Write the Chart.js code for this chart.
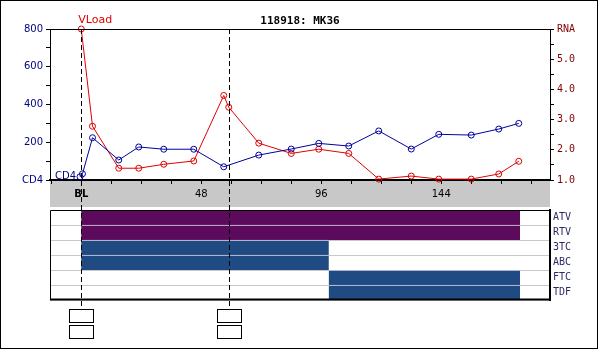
<!DOCTYPE html>
<html>
<head>
<meta charset="utf-8">
<script src="https://cdn.jsdelivr.net/npm/chart.js@4.4.0/dist/chart.umd.min.js"></script>
<style>
    html, body { margin: 0; padding: 0; background: #fff; }
    #wrap { position: relative; width: 600px; height: 349px; }
    #wrap canvas { position: absolute; left: 0; top: 0; }
</style>
</head>
<body>
<div id="wrap">
    <canvas id="labChart" width="600" height="349"></canvas>
    <canvas id="drugChart" width="600" height="349"></canvas>
</div>
<script>
// данные (недели от BL)
const cd4Weeks = [-0.5, 0.5, 4.5, 15, 23, 33, 45, 57, 71, 84, 95, 107, 119, 132, 143, 156, 167, 175];
const cd4Values = [17, 33, 224, 106, 175, 163, 163, 70, 132, 164, 194, 180, 260, 164, 242, 238, 270, 300];

const vlWeeks = [0, 4.5, 15, 23, 33, 45, 57, 59, 71, 84, 95, 107, 119, 132, 143, 156, 167, 175];
const vlLog = [6.0, 2.78, 1.39, 1.39, 1.52, 1.63, 3.80, 3.41, 2.22, 1.88, 2.02, 1.88, 1.03, 1.13, 1.03, 1.03, 1.2, 1.62];

const xTickLabels = { 0: 'BL', 48: '48', 96: '96', 144: '144' };
const markerWeeks = [0, 59];

const drugNames = ['ATV', 'RTV', '3TC', 'ABC', 'FTC', 'TDF'];
const drugStart = [0, 0, 0, 0, 99, 99];
const drugEnd = [175.5, 175.5, 99, 99, 175.5, 175.5];
const drugClass = ['PI', 'PI', 'NRTI', 'NRTI', 'NRTI', 'NRTI'];

const classColors = { PI: '#5c0a5c', NRTI: '#1f4a82' };
const X_MIN = -12.5, X_MAX = 187.5;

const fixWidth = (w) => (scale) => { scale.width = w; };

//
const labDecor = {
    id: 'labDecor',
    beforeDraw(chart) {
        const { ctx, chartArea: { left, right, bottom } } = chart;
        ctx.save();
        ctx.fillStyle = '#c8c8c8';
        ctx.fillRect(left, bottom, right - left, 27); // серая полоса под осью
        ctx.restore();
    },
    afterDraw(chart) {
        const { ctx, chartArea: { left, right, top } } = chart;
        ctx.save();
        ctx.strokeStyle = '#000';
        ctx.lineWidth = 1;
        ctx.beginPath();
        ctx.moveTo(left, top + 0.5);
        ctx.lineTo(right, top + 0.5);
        ctx.stroke();

        // подписи серий у первой точки
        ctx.font = '10px "DejaVu Sans"';
        const cd4 = chart.getDatasetMeta(0).data[0];
        ctx.fillStyle = '#000080';
        ctx.textAlign = 'right';
        ctx.textBaseline = 'middle';
        ctx.fillText('CD4', cd4.x - 4, cd4.y);

        const vl = chart.getDatasetMeta(1).data[0];
        ctx.fillStyle = '#e00000';
        ctx.textAlign = 'left';
        ctx.font = '11px "DejaVu Sans"';
        ctx.fillText('VLoad', vl.x - 3, vl.y - 9);
        ctx.restore();
    }
};

new Chart(document.getElementById('labChart'), {
    type: 'line',
    data: {
        datasets: [
            {
                label: 'CD4',
                data: cd4Weeks.map((w, i) => ({ x: w, y: cd4Values[i] })),
                yAxisID: 'y',
                borderColor: '#0000a0',
                borderWidth: 1,
                pointStyle: 'circle',
                pointRadius: 3,
                pointBorderWidth: 1,
                pointBackgroundColor: 'rgba(0,0,0,0)',
                pointBorderColor: '#0000a0',
                clip: 6,
            },
            {
                label: 'VLoad',
                data: vlWeeks.map((w, i) => ({ x: w, y: vlLog[i] })),
                yAxisID: 'y2',
                borderColor: '#e00000',
                borderWidth: 1,
                pointStyle: 'circle',
                pointRadius: 3,
                pointBorderWidth: 1,
                pointBackgroundColor: 'rgba(0,0,0,0)',
                pointBorderColor: '#e00000',
                clip: 6,
            }
        ]
    },
    options: {
        responsive: false,
        animation: false,
        devicePixelRatio: 1,
        layout: { padding: { left: 0, right: 0, top: 0, bottom: 142 } },
        scales: {
            x: {
                type: 'linear',
                min: X_MIN,
                max: X_MAX,
                afterBuildTicks: (scale) => {
                    const ticks = [];
                    for (let v = -12; v <= 180; v += 12) ticks.push({ value: v });
                    scale.ticks = ticks;
                },
                afterFit: (scale) => { scale.height = 27; },
                grid: { drawOnChartArea: false, tickLength: 4, color: '#000' },
                border: { color: '#000', width: 2 },
                ticks: {
                    autoSkip: false,
                    maxRotation: 0,
                    padding: 4,
                    color: '#000',
                    font: (c) => ({ family: 'DejaVu Sans', size: 10, weight: c.tick && c.tick.value === 0 ? 'bold' : 'normal' }),
                    callback: (v) => xTickLabels[v] || '',
                }
            },
            y: {
                position: 'left',
                min: 0,
                max: 800,
                afterFit: fixWidth(50),
                grid: { drawOnChartArea: false, tickLength: 4, color: '#000' },
                border: { color: '#000', width: 1 },
                ticks: {
                    stepSize: 100,
                    padding: 3,
                    color: '#000080',
                    font: { family: 'DejaVu Sans', size: 10 },
                    callback: (v) => v === 0 ? 'CD4' : (v % 200 === 0 ? String(v) : ''),
                }
            },
            y2: {
                position: 'right',
                min: 1,
                max: 6,
                afterFit: fixWidth(50),
                grid: { drawOnChartArea: false, tickLength: 4, color: '#000' },
                border: { color: '#000', width: 1 },
                ticks: {
                    stepSize: 0.5,
                    padding: 3,
                    color: '#800000',
                    font: { family: 'DejaVu Sans Mono', size: 10 },
                    callback: (v) => v === 6 ? 'RNA' : (Number.isInteger(v) ? v.toFixed(1) : ''),
                }
            }
        },
        plugins: {
            legend: { display: false },
            tooltip: { enabled: false },
            title: {
                display: true,
                text: '118918: MK36',
                color: '#000',
                font: { family: 'DejaVu Sans Mono', size: 11, weight: 'bold', lineHeight: '13px' },
                padding: { top: 15, bottom: 1 },
            }
        }
    },
    plugins: [labDecor]
});

//
const drugDecor = {
    id: 'drugDecor',
    afterDraw(chart) {
        const { ctx, chartArea: { left, right, top, bottom }, scales: { x } } = chart;
        ctx.save();
        ctx.strokeStyle = '#000';
        // рамка таблицы препаратов
        ctx.lineWidth = 1;
        ctx.beginPath();
        ctx.moveTo(left + 0.5, bottom);
        ctx.lineTo(left + 0.5, top + 0.5);
        ctx.lineTo(right, top + 0.5);
        ctx.stroke();
        ctx.lineWidth = 2;
        ctx.beginPath();
        ctx.moveTo(left, bottom - 0.5);
        ctx.lineTo(right + 1, bottom - 0.5);
        ctx.stroke();

        // вертикальные пунктиры и пустые ячейки под ними
        ctx.lineWidth = 1;
        markerWeeks.forEach((w) => {
            const px = Math.round(x.getPixelForValue(w)) + 0.5;
            ctx.setLineDash([5, 3]);
            ctx.beginPath();
            ctx.moveTo(px, 29);
            ctx.lineTo(px, 309);
            ctx.stroke();
            ctx.setLineDash([]);
            ctx.strokeRect(px - 12, 309.5, 24, 13);
            ctx.strokeRect(px - 12, 325.5, 24, 13);
        });

        // внешняя рамка
        ctx.strokeRect(0.5, 0.5, 597, 348);
        ctx.restore();
    }
};

new Chart(document.getElementById('drugChart'), {
    type: 'bar',
    data: {
        labels: drugNames,
        datasets: [{
            data: drugStart.map((s, i) => [s, drugEnd[i]]),
            backgroundColor: drugClass.map((c) => classColors[c]),
            borderColor: '#dcd8e8',
            borderWidth: { top: 1, bottom: 0, left: 0, right: 0 },
            borderSkipped: false,
            barPercentage: 1,
            categoryPercentage: 1,
        }]
    },
    options: {
        indexAxis: 'y',
        responsive: false,
        animation: false,
        devicePixelRatio: 1,
        layout: { padding: { left: 50, right: 0, top: 210, bottom: 49 } },
        scales: {
            x: { type: 'linear', min: X_MIN, max: X_MAX, display: false },
            y: {
                position: 'right',
                afterFit: fixWidth(50),
                grid: { offset: true, color: '#c8c8c8', drawTicks: false },
                border: { color: '#000', width: 2 },
                ticks: {
                    padding: 3,
                    color: '#2a2a66',
                    font: { family: 'DejaVu Sans Mono', size: 10 },
                }
            }
        },
        plugins: {
            legend: { display: false },
            tooltip: { enabled: false },
        }
    },
    plugins: [drugDecor]
});
</script>
</body>
</html>
